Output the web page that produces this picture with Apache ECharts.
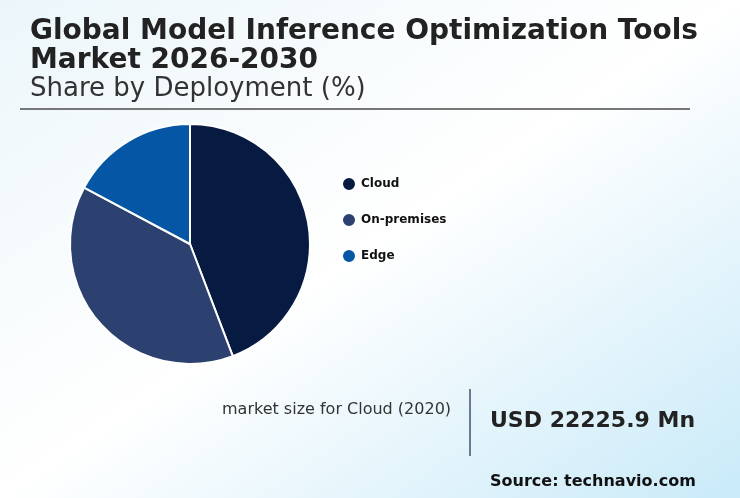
<!DOCTYPE html>
<html>
<head>
<meta charset="utf-8">
<script src="https://cdn.jsdelivr.net/npm/echarts@6/dist/echarts.min.js"></script>
<style>
html,body{margin:0;padding:0;}
#main{width:740px;height:498px;}
</style>
</head>
<body>
<div id="main"></div>
<script>
var categories = ['Cloud', 'On-premises', 'Edge'];
var shares = [44.2, 38.6, 17.2];
var colors = ['#071b42', '#2c4170', '#0557a5'];
var titleLine1 = 'Global Model Inference Optimization Tools';
var titleLine2 = 'Market 2026-2030';
var subtitle = 'Share by Deployment (%)';
var calloutLabel = 'market size for Cloud (2020)';
var calloutValue = 'USD 22225.9 Mn';
var sourceText = 'Source: technavio.com';

var chart = echarts.init(document.getElementById('main'));
var font = 'DejaVu Sans';
function txt(x, y, s, size, weight, fill) {
  return {type: 'text', left: x, top: y, style: {text: s, fontFamily: font, fontSize: size, fontWeight: weight, fill: fill}};
}
chart.setOption({
  backgroundColor: {
    type: 'linear', global: true, x: 0, y: 0, x2: 461, y2: 686,
    colorStops: [
      {offset: 0, color: '#ecf6fa'},
      {offset: 0.5, color: '#ffffff'},
      {offset: 1, color: '#c9eaf8'}
    ]
  },
  color: colors,
  legend: {
    orient: 'vertical',
    left: 336,
    top: 171,
    icon: 'circle',
    itemWidth: 14,
    itemHeight: 14,
    itemGap: 20,
    textStyle: {fontFamily: font, fontWeight: 'bold', fontSize: 12, color: '#111'},
    data: categories
  },
  graphic: [
    txt(30, 18, titleLine1, 28, 'bold', '#222'),
    txt(30, 47, titleLine2, 28, 'bold', '#222'),
    txt(30, 76, subtitle, 26, 'normal', '#333'),
    {type: 'line', shape: {x1: 20, y1: 109, x2: 690, y2: 109}, style: {stroke: '#777', lineWidth: 2}},
    txt(222, 402, calloutLabel, 16, 'normal', '#333'),
    {type: 'line', shape: {x1: 470, y1: 389, x2: 470, y2: 456}, style: {stroke: '#6b7a90', lineWidth: 2}},
    txt(490, 410, calloutValue, 22, 'bold', '#222'),
    txt(490, 474, sourceText, 16, 'bold', '#111')
  ],
  series: [{
    type: 'pie',
    center: [190, 244],
    radius: 120,
    startAngle: 90,
    clockwise: true,
    label: {show: false},
    labelLine: {show: false},
    itemStyle: {borderColor: '#ffffff', borderWidth: 2},
    emphasis: {disabled: true},
    data: categories.map(function (c, i) { return {name: c, value: shares[i]}; })
  }]
});
</script>
</body>
</html>
